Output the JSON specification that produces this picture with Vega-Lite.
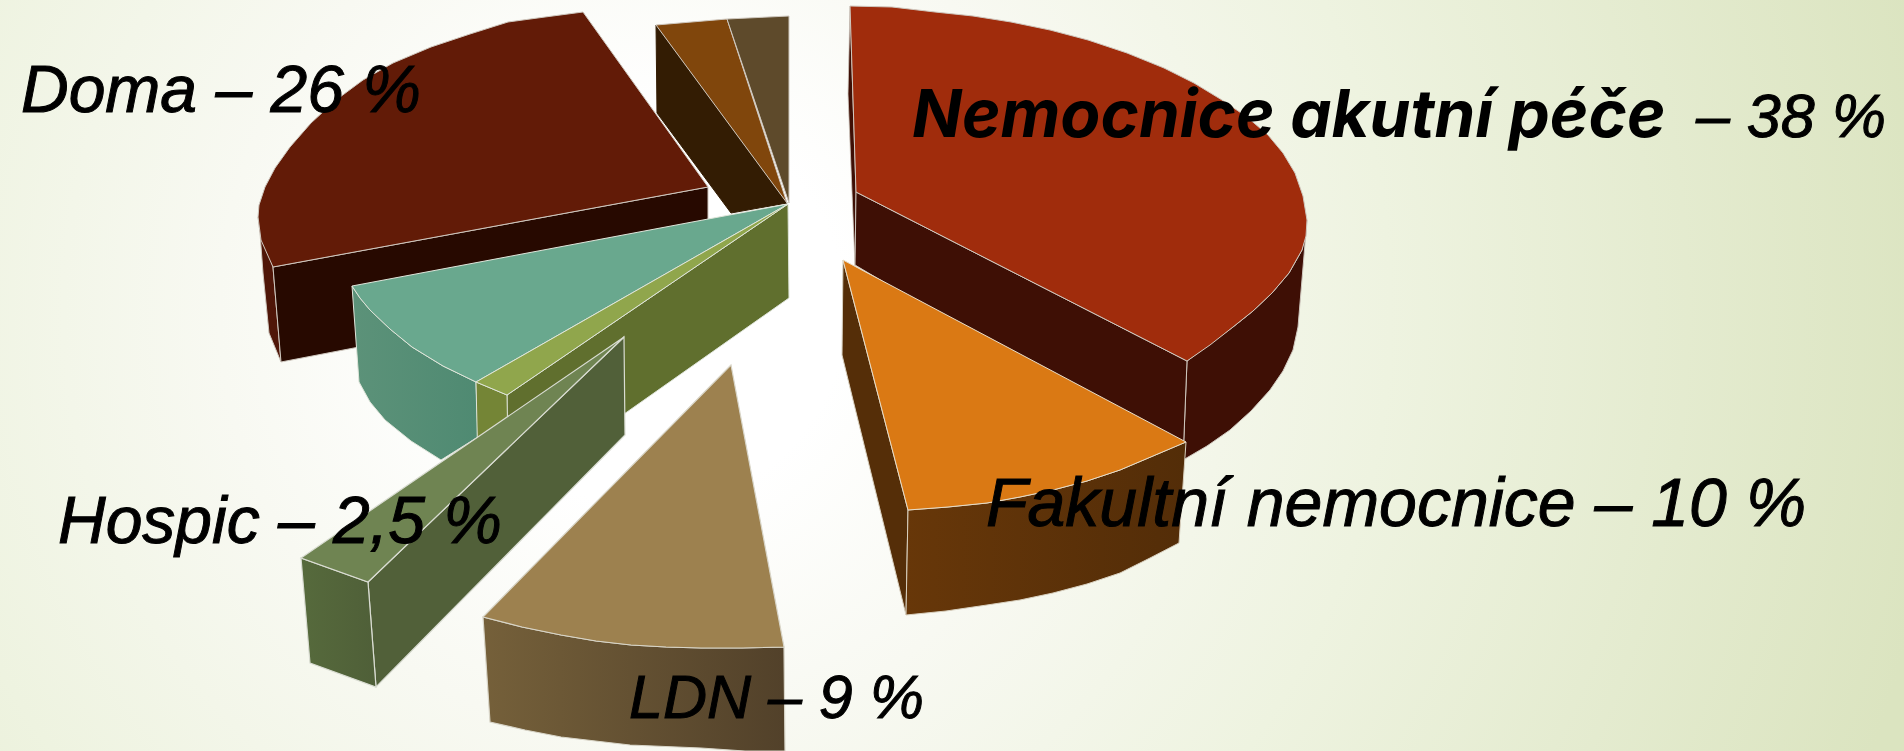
{"$schema":"https://vega.github.io/schema/vega-lite/v6.json","width":1904,"height":751,"padding":0,"autosize":"none","view":{"stroke":null},
"datasets":{
"bg":[{"x":0,"x2":1904,"y":0,"y2":751}],
"faces":[
{"face":"doma_outer","i":0,"x":258,"y":217},{"face":"doma_outer","i":1,"x":273,"y":267},{"face":"doma_outer","i":2,"x":281,"y":362},{"face":"doma_outer","i":3,"x":269,"y":333},{"face":"doma_outer","i":4,"x":263,"y":273},{"face":"doma_outer","i":5,"x":260,"y":233},
{"face":"doma_front","i":0,"x":708,"y":187},{"face":"doma_front","i":1,"x":273,"y":267},{"face":"doma_front","i":2,"x":281,"y":362},{"face":"doma_front","i":3,"x":708,"y":280},
{"face":"doma_top","i":0,"x":708,"y":187},{"face":"doma_top","i":1,"x":583,"y":12},{"face":"doma_top","i":2,"x":545,"y":17},{"face":"doma_top","i":3,"x":508,"y":22},{"face":"doma_top","i":4,"x":470,"y":34},{"face":"doma_top","i":5,"x":431,"y":47},{"face":"doma_top","i":6,"x":393,"y":63},{"face":"doma_top","i":7,"x":363,"y":80},{"face":"doma_top","i":8,"x":336,"y":100},{"face":"doma_top","i":9,"x":311,"y":123},{"face":"doma_top","i":10,"x":290,"y":147},{"face":"doma_top","i":11,"x":275,"y":168},{"face":"doma_top","i":12,"x":265,"y":187},{"face":"doma_top","i":13,"x":259,"y":205},{"face":"doma_top","i":14,"x":258,"y":217},{"face":"doma_top","i":15,"x":261,"y":240},{"face":"doma_top","i":16,"x":273,"y":267},
{"face":"small_side","i":0,"x":656,"y":25},{"face":"small_side","i":1,"x":787,"y":203},{"face":"small_side","i":2,"x":731,"y":213},{"face":"small_side","i":3,"x":657,"y":113},
{"face":"small_a","i":0,"x":656,"y":25},{"face":"small_a","i":1,"x":727,"y":19},{"face":"small_a","i":2,"x":787,"y":203},
{"face":"small_b","i":0,"x":727,"y":19},{"face":"small_b","i":1,"x":789,"y":16},{"face":"small_b","i":2,"x":789,"y":203},
{"face":"teal_side","i":0,"x":352,"y":286},{"face":"teal_side","i":1,"x":360,"y":298},{"face":"teal_side","i":2,"x":370,"y":310},{"face":"teal_side","i":3,"x":390,"y":329},{"face":"teal_side","i":4,"x":412,"y":347},{"face":"teal_side","i":5,"x":443,"y":366},{"face":"teal_side","i":6,"x":476,"y":382},{"face":"teal_side","i":7,"x":478,"y":437},{"face":"teal_side","i":8,"x":441,"y":460},{"face":"teal_side","i":9,"x":411,"y":441},{"face":"teal_side","i":10,"x":385,"y":420},{"face":"teal_side","i":11,"x":370,"y":402},{"face":"teal_side","i":12,"x":359,"y":382},
{"face":"teal_top","i":0,"x":788,"y":204},{"face":"teal_top","i":1,"x":352,"y":286},{"face":"teal_top","i":2,"x":360,"y":298},{"face":"teal_top","i":3,"x":370,"y":310},{"face":"teal_top","i":4,"x":390,"y":329},{"face":"teal_top","i":5,"x":412,"y":347},{"face":"teal_top","i":6,"x":443,"y":366},{"face":"teal_top","i":7,"x":476,"y":382},
{"face":"olive_main","i":0,"x":788,"y":204},{"face":"olive_main","i":1,"x":789,"y":298},{"face":"olive_main","i":2,"x":627,"y":412},{"face":"olive_main","i":3,"x":540,"y":470},{"face":"olive_main","i":4,"x":507,"y":470},{"face":"olive_main","i":5,"x":507,"y":395},
{"face":"olive_end","i":0,"x":476,"y":382},{"face":"olive_end","i":1,"x":507,"y":395},{"face":"olive_end","i":2,"x":508,"y":450},{"face":"olive_end","i":3,"x":478,"y":470},
{"face":"olive_top","i":0,"x":788,"y":204},{"face":"olive_top","i":1,"x":476,"y":382},{"face":"olive_top","i":2,"x":507,"y":395},
{"face":"hospic_front","i":0,"x":624,"y":337},{"face":"hospic_front","i":1,"x":368,"y":582},{"face":"hospic_front","i":2,"x":376,"y":687},{"face":"hospic_front","i":3,"x":625,"y":435},
{"face":"hospic_top","i":0,"x":624,"y":337},{"face":"hospic_top","i":1,"x":301,"y":558},{"face":"hospic_top","i":2,"x":368,"y":582},
{"face":"hospic_end","i":0,"x":301,"y":558},{"face":"hospic_end","i":1,"x":368,"y":582},{"face":"hospic_end","i":2,"x":376,"y":687},{"face":"hospic_end","i":3,"x":310,"y":663},
{"face":"ldn_side","i":0,"x":483,"y":617},{"face":"ldn_side","i":1,"x":522,"y":627},{"face":"ldn_side","i":2,"x":561,"y":635},{"face":"ldn_side","i":3,"x":596,"y":641},{"face":"ldn_side","i":4,"x":631,"y":645},{"face":"ldn_side","i":5,"x":666,"y":647},{"face":"ldn_side","i":6,"x":701,"y":648},{"face":"ldn_side","i":7,"x":742,"y":648},{"face":"ldn_side","i":8,"x":784,"y":647},{"face":"ldn_side","i":9,"x":785,"y":751},{"face":"ldn_side","i":10,"x":745,"y":751},{"face":"ldn_side","i":11,"x":701,"y":748},{"face":"ldn_side","i":12,"x":630,"y":745},{"face":"ldn_side","i":13,"x":561,"y":737},{"face":"ldn_side","i":14,"x":525,"y":730},{"face":"ldn_side","i":15,"x":490,"y":722},
{"face":"ldn_top","i":0,"x":731,"y":365},{"face":"ldn_top","i":1,"x":483,"y":617},{"face":"ldn_top","i":2,"x":522,"y":627},{"face":"ldn_top","i":3,"x":561,"y":635},{"face":"ldn_top","i":4,"x":596,"y":641},{"face":"ldn_top","i":5,"x":631,"y":645},{"face":"ldn_top","i":6,"x":666,"y":647},{"face":"ldn_top","i":7,"x":701,"y":648},{"face":"ldn_top","i":8,"x":742,"y":648},{"face":"ldn_top","i":9,"x":784,"y":647},
{"face":"nem_sliver","i":0,"x":850,"y":6},{"face":"nem_sliver","i":1,"x":856,"y":192},{"face":"nem_sliver","i":2,"x":855,"y":266},{"face":"nem_sliver","i":3,"x":848,"y":94},
{"face":"nem_outer","i":0,"x":1307,"y":220},{"face":"nem_outer","i":1,"x":1302,"y":250},{"face":"nem_outer","i":2,"x":1289,"y":273},{"face":"nem_outer","i":3,"x":1272,"y":293},{"face":"nem_outer","i":4,"x":1253,"y":311},{"face":"nem_outer","i":5,"x":1233,"y":327},{"face":"nem_outer","i":6,"x":1187,"y":361},{"face":"nem_outer","i":7,"x":1183,"y":460},{"face":"nem_outer","i":8,"x":1207,"y":446},{"face":"nem_outer","i":9,"x":1230,"y":430},{"face":"nem_outer","i":10,"x":1251,"y":411},{"face":"nem_outer","i":11,"x":1270,"y":390},{"face":"nem_outer","i":12,"x":1283,"y":371},{"face":"nem_outer","i":13,"x":1293,"y":350},{"face":"nem_outer","i":14,"x":1298,"y":327},
{"face":"nem_front","i":0,"x":856,"y":192},{"face":"nem_front","i":1,"x":1187,"y":361},{"face":"nem_front","i":2,"x":1183,"y":460},{"face":"nem_front","i":3,"x":855,"y":265},
{"face":"nem_top","i":0,"x":850,"y":6},{"face":"nem_top","i":1,"x":892,"y":7},{"face":"nem_top","i":2,"x":935,"y":12},{"face":"nem_top","i":3,"x":973,"y":16},{"face":"nem_top","i":4,"x":1011,"y":22},{"face":"nem_top","i":5,"x":1050,"y":30},{"face":"nem_top","i":6,"x":1088,"y":40},{"face":"nem_top","i":7,"x":1127,"y":53},{"face":"nem_top","i":8,"x":1164,"y":68},{"face":"nem_top","i":9,"x":1194,"y":83},{"face":"nem_top","i":10,"x":1222,"y":100},{"face":"nem_top","i":11,"x":1247,"y":117},{"face":"nem_top","i":12,"x":1268,"y":135},{"face":"nem_top","i":13,"x":1283,"y":153},{"face":"nem_top","i":14,"x":1295,"y":173},{"face":"nem_top","i":15,"x":1303,"y":196},{"face":"nem_top","i":16,"x":1307,"y":220},{"face":"nem_top","i":17,"x":1306,"y":236},{"face":"nem_top","i":18,"x":1302,"y":250},{"face":"nem_top","i":19,"x":1289,"y":273},{"face":"nem_top","i":20,"x":1272,"y":293},{"face":"nem_top","i":21,"x":1253,"y":311},{"face":"nem_top","i":22,"x":1233,"y":327},{"face":"nem_top","i":23,"x":1210,"y":345},{"face":"nem_top","i":24,"x":1187,"y":361},{"face":"nem_top","i":25,"x":856,"y":192},
{"face":"fak_left","i":0,"x":843,"y":260},{"face":"fak_left","i":1,"x":908,"y":510},{"face":"fak_left","i":2,"x":906,"y":615},{"face":"fak_left","i":3,"x":853,"y":400},{"face":"fak_left","i":4,"x":842,"y":355},
{"face":"fak_front","i":0,"x":908,"y":510},{"face":"fak_front","i":1,"x":948,"y":507},{"face":"fak_front","i":2,"x":987,"y":503},{"face":"fak_front","i":3,"x":1020,"y":497},{"face":"fak_front","i":4,"x":1053,"y":490},{"face":"fak_front","i":5,"x":1087,"y":481},{"face":"fak_front","i":6,"x":1120,"y":470},{"face":"fak_front","i":7,"x":1153,"y":456},{"face":"fak_front","i":8,"x":1186,"y":442},{"face":"fak_front","i":9,"x":1179,"y":543},{"face":"fak_front","i":10,"x":1150,"y":558},{"face":"fak_front","i":11,"x":1120,"y":573},{"face":"fak_front","i":12,"x":1087,"y":584},{"face":"fak_front","i":13,"x":1053,"y":593},{"face":"fak_front","i":14,"x":1020,"y":600},{"face":"fak_front","i":15,"x":987,"y":605},{"face":"fak_front","i":16,"x":946,"y":611},{"face":"fak_front","i":17,"x":906,"y":615},
{"face":"fak_top","i":0,"x":843,"y":260},{"face":"fak_top","i":1,"x":1186,"y":442},{"face":"fak_top","i":2,"x":1153,"y":456},{"face":"fak_top","i":3,"x":1120,"y":470},{"face":"fak_top","i":4,"x":1087,"y":481},{"face":"fak_top","i":5,"x":1053,"y":490},{"face":"fak_top","i":6,"x":1020,"y":497},{"face":"fak_top","i":7,"x":987,"y":503},{"face":"fak_top","i":8,"x":948,"y":507},{"face":"fak_top","i":9,"x":908,"y":510}
],
"labels68":[{"x":986,"y":526,"t":"Fakultní nemocnice – 10 %"}],
"labels66":[{"x":58,"y":543,"t":"Hospic – 2,5 %"},{"x":21,"y":112,"t":"Doma – 26 %"}],
"labels62":[{"x":629,"y":718,"t":"LDN – 9 %"},{"x":1696,"y":137,"t":"– 38 %"}],
"labelsBold":[{"x":912,"y":137,"t":"Nemocnice akutní péče"}]
},
"layer":[
{"data":{"name":"bg"},"mark":{"type":"rect","fill":{"gradient":"radial","x1":0.341,"y1":0.466,"r1":0,"x2":0.341,"y2":0.466,"r2":0.683,"stops":[{"offset":0,"color":"#ffffff"},{"offset":0.15,"color":"#ffffff"},{"offset":0.33,"color":"#f8f9f2"},{"offset":0.57,"color":"#eef3e0"},{"offset":1,"color":"#dbe4c0"}]}},
"encoding":{"x":{"field":"x","type":"quantitative","scale":{"domain":[0,1904]},"axis":null},"x2":{"field":"x2"},"y":{"field":"y","type":"quantitative","scale":{"domain":[0,751],"reverse":true},"axis":null},"y2":{"field":"y2"}}},
{"data":{"name":"faces"},
"encoding":{"x":{"field":"x","type":"quantitative","scale":{"domain":[0,1904]},"axis":null},"y":{"field":"y","type":"quantitative","scale":{"domain":[0,751],"reverse":true},"axis":null},"order":{"field":"i","type":"ordinal"},"detail":{"field":"face"}},
"layer":[
{"transform":[{"filter":"datum.face==='doma_outer'"}],"mark":{"type":"line","interpolate":"linear-closed","fill":"#4f1608","stroke":"#cfc8bf","strokeWidth":1}},
{"transform":[{"filter":"datum.face==='doma_front'"}],"mark":{"type":"line","interpolate":"linear-closed","fill":"#270900","stroke":"#cfc8bf","strokeWidth":1}},
{"transform":[{"filter":"datum.face==='doma_top'"}],"mark":{"type":"line","interpolate":"linear-closed","fill":"#621b07","stroke":"#cfc8bf","strokeWidth":1}},
{"transform":[{"filter":"datum.face==='small_side'"}],"mark":{"type":"line","interpolate":"linear-closed","fill":"#331c03","stroke":"#331c03","strokeWidth":1}},
{"transform":[{"filter":"datum.face==='small_a'"}],"mark":{"type":"line","interpolate":"linear-closed","fill":"#80460c","stroke":"#cfc8bf","strokeWidth":1}},
{"transform":[{"filter":"datum.face==='small_b'"}],"mark":{"type":"line","interpolate":"linear-closed","fill":"#5e4a2b","stroke":"#cfc8bf","strokeWidth":1}},
{"transform":[{"filter":"datum.face==='teal_side'"}],"mark":{"type":"line","interpolate":"linear-closed","stroke":"#dfe5da","strokeWidth":1,"fill":{"gradient":"linear","x1":0,"y1":0,"x2":1,"y2":0,"stops":[{"offset":0,"color":"#5c9279"},{"offset":1,"color":"#4f8a72"}]}}},
{"transform":[{"filter":"datum.face==='teal_top'"}],"mark":{"type":"line","interpolate":"linear-closed","fill":"#69a88e","stroke":"#dfe5da","strokeWidth":1}},
{"transform":[{"filter":"datum.face==='olive_main'"}],"mark":{"type":"line","interpolate":"linear-closed","fill":"#606f2e","stroke":"#dfe5da","strokeWidth":1}},
{"transform":[{"filter":"datum.face==='olive_end'"}],"mark":{"type":"line","interpolate":"linear-closed","fill":"#748536","stroke":"#dfe5da","strokeWidth":1}},
{"transform":[{"filter":"datum.face==='olive_top'"}],"mark":{"type":"line","interpolate":"linear-closed","fill":"#90a64c","stroke":"#dfe5da","strokeWidth":1}},
{"transform":[{"filter":"datum.face==='hospic_front'"}],"mark":{"type":"line","interpolate":"linear-closed","fill":"#516039","stroke":"#d9dcd2","strokeWidth":1.2}},
{"transform":[{"filter":"datum.face==='hospic_end'"}],"mark":{"type":"line","interpolate":"linear-closed","stroke":"#d9dcd2","strokeWidth":1.2,"fill":{"gradient":"linear","x1":0,"y1":0,"x2":1,"y2":0,"stops":[{"offset":0,"color":"#566a3c"},{"offset":1,"color":"#4f5f38"}]}}},
{"transform":[{"filter":"datum.face==='hospic_top'"}],"mark":{"type":"line","interpolate":"linear-closed","fill":"#6f8452","stroke":"#d9dcd2","strokeWidth":1.2}},
{"transform":[{"filter":"datum.face==='ldn_side'"}],"mark":{"type":"line","interpolate":"linear-closed","stroke":"#d8d5c8","strokeWidth":1.2,"fill":{"gradient":"linear","x1":0,"y1":0,"x2":1,"y2":0,"stops":[{"offset":0,"color":"#75603a"},{"offset":1,"color":"#52412a"}]}}},
{"transform":[{"filter":"datum.face==='ldn_top'"}],"mark":{"type":"line","interpolate":"linear-closed","fill":"#9d814f","stroke":"#d8d5c8","strokeWidth":1.2}},
{"transform":[{"filter":"datum.face==='nem_sliver'"}],"mark":{"type":"line","interpolate":"linear-closed","fill":"#3e0f05","stroke":"#cfc8bf","strokeWidth":0.8}},
{"transform":[{"filter":"datum.face==='nem_outer'"}],"mark":{"type":"line","interpolate":"linear-closed","fill":"#3e0f05","stroke":"#cfc8bf","strokeWidth":1}},
{"transform":[{"filter":"datum.face==='nem_front'"}],"mark":{"type":"line","interpolate":"linear-closed","fill":"#3e0f05","stroke":"#cfc8bf","strokeWidth":1}},
{"transform":[{"filter":"datum.face==='nem_top'"}],"mark":{"type":"line","interpolate":"linear-closed","fill":"#a02c0c","stroke":"#cfc8bf","strokeWidth":1}},
{"transform":[{"filter":"datum.face==='fak_left'"}],"mark":{"type":"line","interpolate":"linear-closed","fill":"#552e08","stroke":"#d8d0bf","strokeWidth":1}},
{"transform":[{"filter":"datum.face==='fak_front'"}],"mark":{"type":"line","interpolate":"linear-closed","stroke":"#d8d0bf","strokeWidth":1,"fill":{"gradient":"linear","x1":0,"y1":0,"x2":1,"y2":0,"stops":[{"offset":0,"color":"#673709"},{"offset":1,"color":"#532d08"}]}}},
{"transform":[{"filter":"datum.face==='fak_top'"}],"mark":{"type":"line","interpolate":"linear-closed","fill":"#da7914","stroke":"#e6dcc8","strokeWidth":1}}
]},
{"encoding":{"x":{"field":"x","type":"quantitative","scale":{"domain":[0,1904]},"axis":null},"y":{"field":"y","type":"quantitative","scale":{"domain":[0,751],"reverse":true},"axis":null},"text":{"field":"t"}},
"layer":[
{"data":{"name":"labels68"},"mark":{"type":"text","align":"left","baseline":"alphabetic","font":"Liberation Sans","fontStyle":"italic","fontSize":68,"color":"#000000","stroke":"#000000","strokeWidth":1}},
{"data":{"name":"labels66"},"mark":{"type":"text","align":"left","baseline":"alphabetic","font":"Liberation Sans","fontStyle":"italic","fontSize":66,"color":"#000000","stroke":"#000000","strokeWidth":1}},
{"data":{"name":"labels62"},"mark":{"type":"text","align":"left","baseline":"alphabetic","font":"Liberation Sans","fontStyle":"italic","fontSize":61,"color":"#000000","stroke":"#000000","strokeWidth":1}},
{"data":{"name":"labelsBold"},"mark":{"type":"text","align":"left","baseline":"alphabetic","font":"Inter","fontStyle":"italic","fontWeight":"bold","fontSize":65.5,"color":"#000000"}}
]}
]}
